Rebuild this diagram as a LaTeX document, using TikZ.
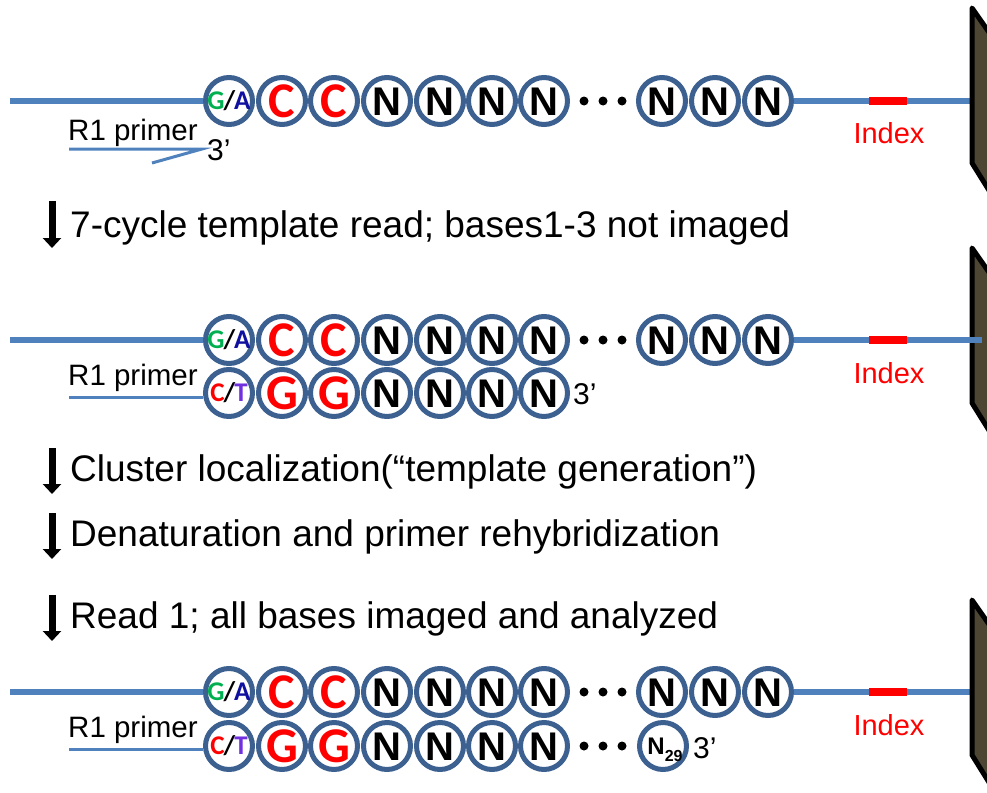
\documentclass[tikz,border=0pt]{standalone}
\usepackage{fontspec}
\setmainfont{Liberation Sans}
\newfontfamily\calfont{Carlito}
\usetikzlibrary{arrows.meta}
\definecolor{strand}{HTML}{4F81BD}
\definecolor{ring}{HTML}{3C6090}
\definecolor{idx}{HTML}{FF0000}
\definecolor{cell}{HTML}{4D4632}
\definecolor{gG}{HTML}{00B050}
\definecolor{aA}{HTML}{1010A0}
\definecolor{tT}{HTML}{7030E0}
\tikzset{
  basering/.style={circle, draw=ring, line width=5pt, minimum size=47pt, inner sep=0pt, fill=white},
  nb/.style={basering, font=\bfseries\fontsize{40}{40}\selectfont, text height=28.6pt, text depth=0pt},
  cb/.style={basering, text=idx, font=\calfont\bfseries\fontsize{50}{50}\selectfont, text height=32pt, text depth=0pt},
  sb/.style={basering, font=\calfont\bfseries\fontsize{27}{27}\selectfont, text height=17.5pt, text depth=0pt},
  tb/.style={basering, font=\bfseries\fontsize{24}{24}\selectfont, text height=17pt, text depth=0pt},
  strandln/.style={draw=strand, line width=6pt},
  primerln/.style={draw=strand, line width=3pt},
  indexln/.style={draw=idx, line width=8pt},
  celldraw/.style={fill=cell, draw=black, line width=5pt, line join=round},
  steptext/.style={anchor=base west, inner sep=0pt, font=\fontsize{37}{44}\selectfont},
  primertext/.style={anchor=base west, inner sep=0pt, font=\fontsize{29.5}{30}\selectfont},
  primeend/.style={anchor=base west, inner sep=0pt, font=\fontsize{30}{30}\selectfont},
  idxtext/.style={text=idx, inner sep=0pt, font=\fontsize{29}{30}\selectfont},
  steparrow/.style={line width=7pt, -{Triangle[width=18pt,length=10pt]}},
  dotmark/.style={circle, fill=black, inner sep=0pt, minimum size=9pt}
}
\newcommand\GAtext{\textcolor{gG}{G}\kern-1pt\textcolor{black}{/}\kern-1pt\textcolor{aA}{A}}
\newcommand\CTtext{\textcolor{idx}{C}\kern-1pt\textcolor{black}{/}\kern-1pt\textcolor{tT}{T}}
% top strand row: #1 prefix, #2 y
\newcommand\TopRow[2]{%
  \node[sb] (#1ga) at (229,#2) {\GAtext};
  \node[cb] (#1c1) at (282,#2) {C};
  \node[cb] (#1c2) at (334,#2) {C};
  \foreach \x [count=\i] in {387,440,492,544,662,715,768} {\node[nb] (#1n\i) at (\x,#2) {N};}
  \foreach \x [count=\i] in {584,603,622} {\node[dotmark] (#1d\i) at (\x,#2) {};}
}
% complementary row (7 bases): #1 prefix, #2 y
\newcommand\BottomRow[2]{%
  \node[sb] (#1ct) at (229,#2) {\CTtext};
  \node[cb] (#1g1) at (282,#2) {G};
  \node[cb] (#1g2) at (334,#2) {G};
  \foreach \x [count=\i] in {387,440,492,544} {\node[nb] (#1n\i) at (\x,#2) {N};}
}
\begin{document}
\begin{tikzpicture}[x=1pt,y=-1pt]
\useasboundingbox (0,0) rectangle (987,792);
\clip (0,0) rectangle (987,792);

% ---------- panel 1 ----------
\coordinate (s1a) at (10,101);
\coordinate (s1b) at (972,101);
\TopRow{a}{101}
\draw[strandln] (s1a) -- (aga.west);
\draw[strandln] (an7.east) -- (s1b);
\coordinate (i1a) at (869,101); \coordinate (i1b) at (907,101);
\draw[indexln] (i1a) -- (i1b);
\node[idxtext] (idx1) at (889,133) {Index};
\filldraw[celldraw] (972,8) -- (1000,48) -- (1000,208) -- (972,163) -- cycle;
\node[primertext] (pr1) at (68,140) {R1 primer};
\coordinate (p1a) at (69,149); \coordinate (p1b) at (202,149); \coordinate (p1c) at (152,163);
\draw[primerln] (p1a) -- (p1b) -- (p1c);
\node[primeend] (e1) at (207,160) {3’};

% ---------- step 1 ----------
\coordinate (ar1a) at (52,201); \coordinate (ar1b) at (52,248);
\draw[steparrow] (ar1a) -- (ar1b);
\node[steptext] (t1) at (70,237) {7-cycle template read; bases1-3 not imaged};

% ---------- panel 2 ----------
\filldraw[celldraw] (972,248) -- (1000,288) -- (1000,448) -- (972,403) -- cycle;
\coordinate (s2a) at (10,340);
\coordinate (s2b) at (982,340);
\TopRow{b}{340}
\BottomRow{c}{393}
\draw[strandln] (s2a) -- (bga.west);
\draw[strandln] (bn7.east) -- (s2b);
\coordinate (i2a) at (869,340); \coordinate (i2b) at (907,340);
\draw[indexln] (i2a) -- (i2b);
\node[idxtext] (idx2) at (889,373) {Index};
\node[primertext] (pr2) at (68,385) {R1 primer};
\coordinate (p2a) at (69,397); \coordinate (p2b) at (203,397);
\draw[primerln] (p2a) -- (p2b);
\node[primeend] (e2) at (573,404) {3’};

% ---------- steps 2-4 ----------
\coordinate (ar2a) at (52,448); \coordinate (ar2b) at (52,494);
\draw[steparrow] (ar2a) -- (ar2b);
\node[steptext] (t2) at (70,481) {Cluster localization(“template generation”)};
\coordinate (ar3a) at (52,513); \coordinate (ar3b) at (52,559);
\draw[steparrow] (ar3a) -- (ar3b);
\node[steptext] (t3) at (70,546) {Denaturation and primer rehybridization};
\coordinate (ar4a) at (52,595); \coordinate (ar4b) at (52,641);
\draw[steparrow] (ar4a) -- (ar4b);
\node[steptext] (t4) at (70,628) {Read 1; all bases imaged and analyzed};

% ---------- panel 3 ----------
\coordinate (s3a) at (10,692);
\coordinate (s3b) at (972,692);
\TopRow{d}{692}
\BottomRow{e}{746}
\foreach \x [count=\i] in {584,603,622} {\node[dotmark] (ed\i) at (\x,746) {};}
\node[tb] (en29) at (663,746) {\hspace*{4pt}N\raisebox{-7pt}{\fontsize{16}{16}\selectfont 29}};
\draw[strandln] (s3a) -- (dga.west);
\draw[strandln] (dn7.east) -- (s3b);
\coordinate (i3a) at (869,692); \coordinate (i3b) at (907,692);
\draw[indexln] (i3a) -- (i3b);
\node[idxtext] (idx3) at (889,725) {Index};
\filldraw[celldraw] (972,600) -- (1000,640) -- (1000,800) -- (972,755) -- cycle;
\node[primertext] (pr3) at (68,737) {R1 primer};
\coordinate (p3a) at (69,749); \coordinate (p3b) at (203,749);
\draw[primerln] (p3a) -- (p3b);
\node[primeend] (e3) at (693,758) {3’};
\end{tikzpicture}
\end{document}
